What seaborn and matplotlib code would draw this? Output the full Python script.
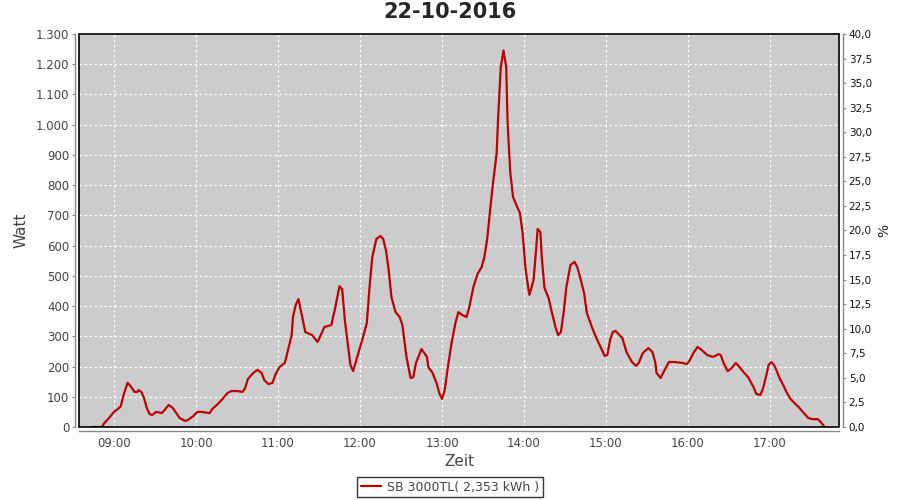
import numpy as np
import pandas as pd
import matplotlib
matplotlib.use("Agg")
import matplotlib.pyplot as plt
import matplotlib.dates as mdates
from matplotlib.ticker import FuncFormatter, MultipleLocator
from matplotlib.patches import Rectangle
import seaborn as sns

# readings of the SB 3000TL on 22-10-2016
times = [
    "08:44", "08:51", "08:53", "08:57", "09:00", "09:03", "09:05", "09:07", "09:09", "09:10",
    "09:12", "09:15", "09:17", "09:18", "09:20", "09:22", "09:24", "09:26", "09:28", "09:31",
    "09:35", "09:37", "09:40", "09:43", "09:46", "09:48", "09:52", "09:54", "09:58", "10:01",
    "10:04", "10:10", "10:12", "10:16", "10:20", "10:23", "10:26", "10:30", "10:34", "10:36",
    "10:38", "10:42", "10:45", "10:48", "10:50", "10:53", "10:56", "10:58", "11:01", "11:05",
    "11:07", "11:10", "11:11", "11:13", "11:15", "11:20", "11:25", "11:29", "11:34", "11:39",
    "11:42", "11:45", "11:47", "11:49", "11:53", "11:55", "11:58", "12:02", "12:05", "12:07",
    "12:09", "12:12", "12:15", "12:17", "12:19", "12:21", "12:23", "12:26", "12:29", "12:31",
    "12:34", "12:37", "12:39", "12:41", "12:45", "12:49", "12:50", "12:53", "12:56", "12:58",
    "13:00", "13:02", "13:04", "13:07", "13:10", "13:12", "13:15", "13:18", "13:20", "13:23",
    "13:26", "13:29", "13:31", "13:33", "13:35", "13:37", "13:40", "13:41", "13:43", "13:45",
    "13:47", "13:48", "13:50", "13:52", "13:55", "13:57", "13:59", "14:01", "14:03", "14:04",
    "14:07", "14:09", "14:10", "14:12", "14:13", "14:15", "14:18", "14:20", "14:23", "14:25",
    "14:27", "14:29", "14:31", "14:34", "14:37", "14:39", "14:41", "14:44", "14:46", "14:50",
    "14:53", "14:56", "14:59", "15:01", "15:03", "15:05", "15:07", "15:12", "15:15", "15:19",
    "15:22", "15:24", "15:27", "15:31", "15:34", "15:36", "15:37", "15:40", "15:41", "15:44",
    "15:46", "15:50", "15:56", "15:59", "16:01", "16:04", "16:07", "16:10", "16:14", "16:18",
    "16:20", "16:22", "16:24", "16:26", "16:29", "16:32", "16:35", "16:37", "16:40", "16:44",
    "16:48", "16:50", "16:53", "16:55", "16:57", "16:59", "17:01", "17:03", "17:05", "17:07",
    "17:10", "17:12", "17:15", "17:18", "17:21", "17:24", "17:28", "17:31", "17:35", "17:37",
    "17:40",
]
watt = [
    0, 0, 13, 33, 50, 60, 69, 106, 132, 146,
    136, 116, 116, 122, 116, 96, 63, 43, 40, 50,
    46, 56, 73, 63, 43, 30, 20, 23, 36, 50,
    50, 46, 60, 76, 96, 112, 119, 119, 116, 129,
    159, 179, 189, 179, 155, 142, 146, 172, 198, 212,
    248, 304, 364, 404, 423, 314, 304, 281, 331, 337,
    397, 466, 455, 350, 205, 185, 232, 294, 344, 463,
    562, 622, 632, 622, 585, 519, 430, 380, 364, 338,
    232, 162, 165, 212, 258, 232, 198, 180, 146, 112,
    93, 122, 189, 278, 347, 380, 370, 364, 397, 463,
    506, 529, 562, 619, 708, 794, 906, 1016, 1191, 1245,
    1191, 1006, 840, 761, 728, 708, 642, 529, 463, 437,
    486, 595, 655, 645, 562, 460, 427, 387, 331, 304,
    314, 377, 463, 536, 546, 529, 496, 443, 377, 327,
    294, 265, 235, 238, 288, 314, 318, 294, 248, 215,
    202, 212, 245, 261, 248, 215, 179, 162, 172, 198,
    215, 215, 212, 208, 218, 245, 265, 255, 238, 232,
    235, 241, 238, 212, 185, 195, 212, 202, 185, 165,
    132, 109, 106, 129, 165, 205, 215, 205, 185, 162,
    136, 116, 93, 79, 66, 50, 30, 26, 26, 17,
    0,
]

title = "22-10-2016"
series_name = "SB 3000TL( 2,353 kWh )"

df = pd.DataFrame({
    "Zeit": pd.to_datetime(["2016-10-22 " + t for t in times]),
    "Watt": watt,
})

sns.set_style("white")
plt.rcParams["font.family"] = ["DejaVu Sans"]

fig = plt.figure(figsize=(9, 5), dpi=100)
ax = fig.add_axes([79 / 900, 1 - 427 / 500, 760 / 900, 393 / 500])
ax.set_facecolor("#cccccc")

sns.lineplot(data=df, x="Zeit", y="Watt", ax=ax, color="#bb0000",
             linewidth=1.6, label=series_name, legend=False)

ax.set_xlim(pd.Timestamp("2016-10-22 08:34:24"), pd.Timestamp("2016-10-22 17:50:30"))
ax.set_ylim(0, 1300)
ax.yaxis.set_major_locator(MultipleLocator(100))
ax.yaxis.set_major_formatter(FuncFormatter(lambda v, p: f"{int(v):,}".replace(",", ".")))
ax.xaxis.set_major_locator(mdates.HourLocator())
ax.xaxis.set_major_formatter(mdates.DateFormatter("%H:%M"))
ax.grid(True, color="white", linestyle=(0, (2, 2)), linewidth=0.9)

ax2 = ax.twinx()
ax2.set_ylim(0, 40)
ax2.yaxis.set_major_locator(MultipleLocator(2.5))
ax2.yaxis.set_major_formatter(FuncFormatter(lambda v, p: f"{v:.1f}".replace(".", ",")))
ax2.set_ylabel("%", fontsize=10, color="#222222", labelpad=4)

for a in (ax, ax2):
    for s in a.spines.values():
        s.set_visible(False)
ax.spines["left"].set_visible(True)
ax.spines["bottom"].set_visible(True)
ax2.spines["right"].set_visible(True)
for s in (ax.spines["left"], ax.spines["bottom"], ax2.spines["right"]):
    s.set_position(("outward", 3))
    s.set_color("#888888")
    s.set_linewidth(1.0)

ax.tick_params(axis="both", length=2, width=0.8, color="#888888", labelsize=8.5,
               labelcolor="#444444", pad=2)
ax2.tick_params(axis="y", length=2, width=0.8, color="#888888", labelsize=7.5,
                labelcolor="#111111", pad=2)

# black frame round the plot area
ax.add_patch(Rectangle((0, 0), 1, 1, transform=ax.transAxes, fill=False,
                       edgecolor="black", linewidth=1.2, clip_on=False, zorder=5))

ax.set_xlabel("Zeit", fontsize=11, color="#444444", labelpad=3)
ax.set_ylabel("Watt", fontsize=11, color="#444444", labelpad=5)
fig.suptitle(title, x=0.5, y=0.995, fontsize=15, fontweight="bold")

handles, labels = ax.get_legend_handles_labels()
fig.legend(handles, labels, loc="center", bbox_to_anchor=(450 / 900, 1 - 487 / 500),
           frameon=True, fancybox=False, edgecolor="black", fontsize=9,
           handlelength=1.6, borderpad=0.3, handletextpad=0.5, labelcolor="#444444")

fig.savefig("out.png", dpi=100)
